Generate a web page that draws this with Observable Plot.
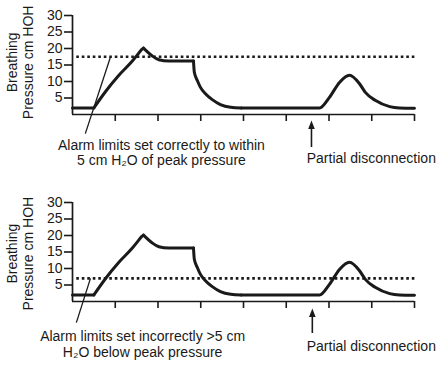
<!DOCTYPE html>
<html>
<head>
<meta charset="utf-8">
<script src="https://cdn.jsdelivr.net/npm/d3@7"></script>
<script src="https://cdn.jsdelivr.net/npm/@observablehq/plot@0.6"></script>
<style>
  html, body { margin: 0; padding: 0; background: #fff; }
  svg { display: block; }
</style>
</head>
<body>
<div id="chart"></div>
<script>
// ---- data ----
// breathing pressure trace, split into pieces at the sharp corners
const segment =  [0, 0,    1,    1,    1,    1,    1,    1,    1,    2,    2,    2,    2,    2,    3,    3,    3,    3,    3,    3,    3,    3,    3,    4,    4,    4,    4,    4,    4,    4,    4,    4,    4,    4,    4];
const time =     [0, 0.50, 0.50, 0.77, 1.08, 1.40, 1.55, 1.61, 1.66, 1.66, 1.86, 2.02, 2.25, 2.83, 2.83, 2.85, 2.92, 2.99, 3.11, 3.27, 3.46, 3.70, 3.95, 3.95, 5.00, 5.78, 6.01, 6.25, 6.48, 6.71, 6.85, 7.08, 7.42, 7.65, 8.00];
const pressure = [2, 2,    2,    6.9,  11.8, 16.2, 18.6, 19.6, 20.1, 20.1, 17.8, 16.6, 16.2, 16.2, 16.2, 12.8, 10.3, 8.3,  6.3,  4.5,  3.0,  2.2,  2.0,  2.0,  2.0,  2.0,  5.2,  9.8,  11.9, 9.4,  6.7,  4.3,  2.4,  2.0,  1.9];
const xTicks = [1, 2, 3, 4, 5, 6, 7, 8];
const yTicks = [5, 10, 15, 20, 25, 30];
const alarmLimit = [17.5, 7];
const yLabelLines = ["Breathing", "Pressure cm HOH"];
const noteLines = [
  ["Alarm limits set correctly to within", "5 cm H\u2082O of peak pressure"],
  ["Alarm limits set incorrectly >5 cm", "H\u2082O below peak pressure"]
];
const disconnectLabel = "Partial disconnection";
// annotation anchors (data units)
const noteX = [2.08, 1.64];
const noteY = [[-9.4, -13.9], [-10.6, -15.5]];
const leaderStart = [[0.30, -5.8], [0.09, -6.4]];
const leaderEnd = [[0.89, 17.5], [0.42, 7]];
const arrowX = [5.59, 5.61];
const arrowBase = [-10, -9.7];
const arrowTip = [-1.8, -2.1];
const disconnectX = [6.99, 6.99];
const disconnectY = [-13.3, -13.6];
const yLabelX = [-1.40, -1.03];
const yLabelY = [15.8, 14.5];

const ink = "#1a1a1a";
const font = "Liberation Sans, Arial, Helvetica, sans-serif";
const curveData = time.map((t, i) => ({t, p: pressure[i], s: segment[i]}));

const arrowHead = {
  draw(ctx) {
    ctx.moveTo(0, 0);
    ctx.lineTo(3.3, 8.5);
    ctx.lineTo(-3.3, 8.5);
    ctx.closePath();
  }
};

function panel(i, height, marginTop, marginBottom) {
  return Plot.plot({
    width: 444,
    height,
    marginTop,
    marginBottom,
    marginLeft: 72,
    marginRight: 30,
    x: {domain: [0, 8]},
    y: {domain: [0, 30]},
    style: {fontFamily: font, fontSize: "14px", color: ink, background: "white", overflow: "visible"},
    marks: [
      Plot.axisY({ticks: yTicks, tickSize: 8, tickPadding: 2, fontSize: 14, strokeWidth: 1.6, label: null}),
      Plot.axisX({ticks: xTicks, tickSize: 7, tickFormat: () => "", strokeWidth: 1.6, label: null}),
      Plot.ruleX([0], {y1: 0, y2: 30, stroke: ink, strokeWidth: 1.7}),
      Plot.ruleY([0], {stroke: ink, strokeWidth: 1.7}),
      Plot.ruleY([alarmLimit[i]], {x1: 0.1, x2: 8.05, stroke: ink, strokeWidth: 2.6, strokeDasharray: "2.6,2.9"}),
      Plot.line(curveData, {x: "t", y: "p", z: "s", curve: "monotone-x", stroke: ink, strokeWidth: 3, strokeLinejoin: "round", strokeLinecap: "round"}),
      Plot.link([0], {
        x1: () => leaderStart[i][0], y1: () => leaderStart[i][1],
        x2: () => leaderEnd[i][0], y2: () => leaderEnd[i][1],
        stroke: ink, strokeWidth: 1.3
      }),
      Plot.text(noteLines[i], {
        x: () => noteX[i], y: (d, j) => noteY[i][j], text: d => d,
        fontSize: 14, fill: ink, textAnchor: "middle"
      }),
      Plot.text([disconnectLabel], {
        x: () => disconnectX[i], y: () => disconnectY[i], text: d => d,
        fontSize: 14, fill: ink, textAnchor: "middle"
      }),
      Plot.ruleX([arrowX[i]], {y1: arrowBase[i], y2: arrowTip[i] - 1.5, stroke: ink, strokeWidth: 1.6}),
      Plot.dot([0], {x: () => arrowX[i], y: () => arrowTip[i], symbol: arrowHead, fill: ink, stroke: "none"}),
      Plot.text(yLabelLines, {
        x: (d, j) => yLabelX[j], y: () => yLabelY[i], text: d => d,
        rotate: -90, fontSize: 14, fill: ink, textAnchor: "middle"
      })
    ]
  });
}

const root = document.getElementById("chart");
root.append(panel(0, 182, 15, 68));
root.append(panel(1, 183, 20, 64));
</script>
</body>
</html>
